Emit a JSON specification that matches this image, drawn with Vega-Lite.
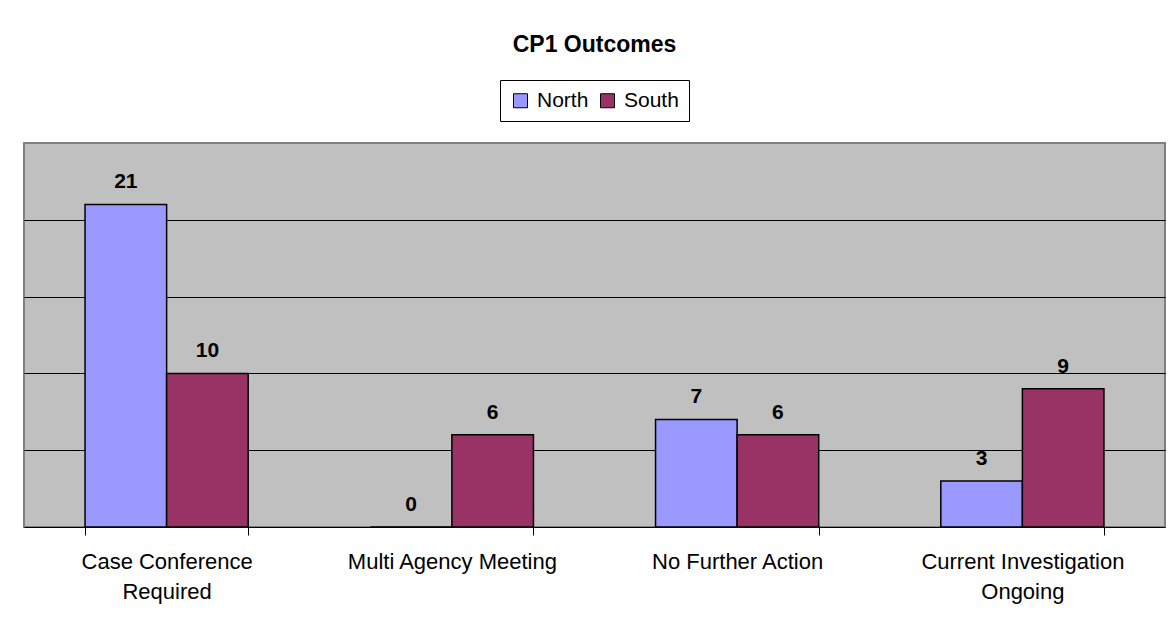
{
  "$schema": "https://vega.github.io/schema/vega-lite/v6.json",
  "autosize": {"type": "none"},
  "padding": {"left": 24, "top": 143, "right": 6, "bottom": 99},
  "width": 1141,
  "height": 384,
  "background": "white",
  "title": {
    "text": "CP1 Outcomes",
    "anchor": "middle",
    "frame": "group",
    "offset": 23,
    "font": "Liberation Sans",
    "fontSize": 23,
    "fontWeight": "bold",
    "color": "black"
  },
  "data": {
    "values": [
      {"category": "Case Conference Required", "region": "North", "value": 21},
      {"category": "Case Conference Required", "region": "South", "value": 10},
      {"category": "Multi Agency Meeting", "region": "North", "value": 0},
      {"category": "Multi Agency Meeting", "region": "South", "value": 6},
      {"category": "No Further Action", "region": "North", "value": 7},
      {"category": "No Further Action", "region": "South", "value": 6},
      {"category": "Current Investigation Ongoing", "region": "North", "value": 3},
      {"category": "Current Investigation Ongoing", "region": "South", "value": 9}
    ]
  },
  "encoding": {
    "x": {
      "field": "category",
      "type": "nominal",
      "sort": null,
      "scale": {"paddingInner": 0.428, "paddingOuter": 0.214},
      "axis": {
        "title": null,
        "labelAngle": 0,
        "labelFont": "Liberation Sans",
        "labelFontSize": 22,
        "labelColor": "black",
        "labelLineHeight": 30,
        "labelPadding": 16,
        "labelLimit": 400,
        "tickBand": "extent",
        "tickColor": "black",
        "tickSize": 8,
        "tickWidth": 1,
        "domainColor": "black",
        "domainWidth": 1,
        "labelExpr": "datum.label == 'Case Conference Required' ? ['Case Conference', 'Required'] : datum.label == 'Current Investigation Ongoing' ? ['Current Investigation', 'Ongoing'] : datum.label"
      }
    },
    "xOffset": {
      "field": "region",
      "type": "nominal",
      "scale": {"paddingInner": 0, "paddingOuter": 0}
    },
    "y": {
      "field": "value",
      "type": "quantitative",
      "scale": {"domain": [0, 25], "nice": false},
      "axis": {
        "title": null,
        "labels": false,
        "ticks": false,
        "domain": false,
        "values": [5, 10, 15, 20],
        "grid": true,
        "gridColor": "black",
        "gridWidth": 1,
        "gridOpacity": 1
      }
    }
  },
  "layer": [
    {
      "mark": {"type": "bar", "stroke": "black", "strokeWidth": 1.5},
      "encoding": {
        "fill": {
          "field": "region",
          "type": "nominal",
          "scale": {"domain": ["North", "South"], "range": ["#9999FF", "#993366"]},
          "legend": {
            "title": null,
            "orient": "none",
            "legendX": 476,
            "legendY": -63,
            "direction": "horizontal",
            "fillColor": "white",
            "strokeColor": "black",
            "padding": 10,
            "symbolType": "square",
            "symbolSize": 196,
            "symbolStrokeColor": "black",
            "symbolStrokeWidth": 1,
            "symbolOpacity": 1,
            "labelFont": "Liberation Sans",
            "labelFontSize": 21,
            "labelColor": "black",
            "labelOffset": 6,
            "columnPadding": 8
          }
        }
      }
    },
    {
      "mark": {
        "type": "text",
        "baseline": "alphabetic",
        "dy": -16,
        "font": "Liberation Sans",
        "fontSize": 21,
        "fontWeight": "bold",
        "color": "black"
      },
      "encoding": {
        "text": {"field": "value", "type": "quantitative"}
      }
    }
  ],
  "config": {
    "view": {"fill": "#C0C0C0", "stroke": "#808080", "strokeWidth": 2}
  }
}
